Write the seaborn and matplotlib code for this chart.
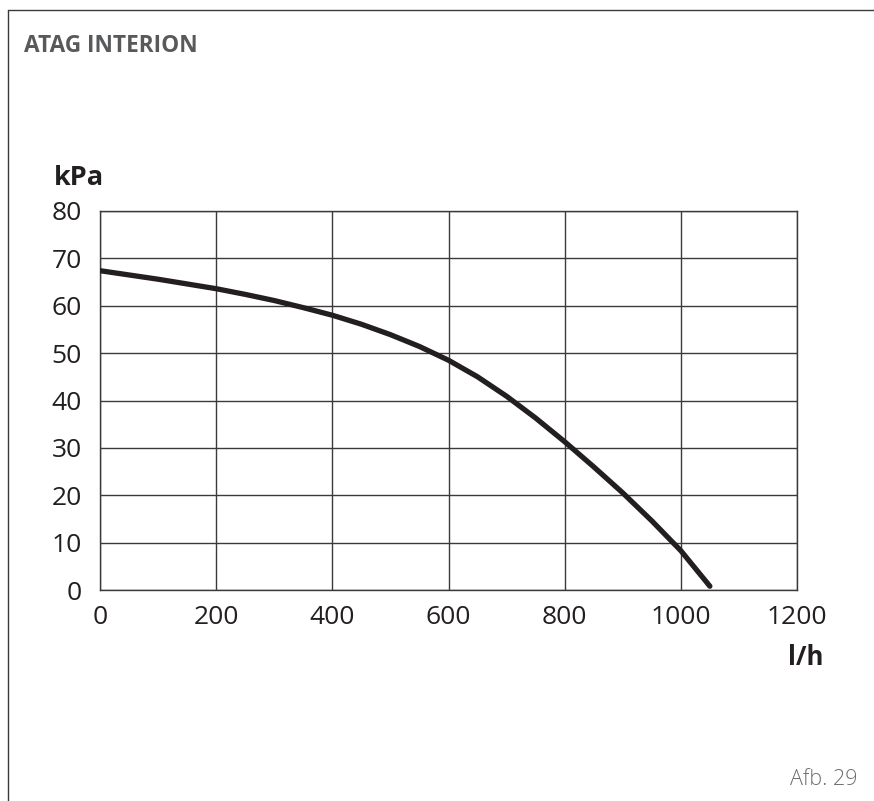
import matplotlib
matplotlib.use("Agg")
import matplotlib.pyplot as plt
from matplotlib.lines import Line2D
import seaborn as sns
import pandas as pd

# Pump residual head curve (flow in l/h, head in kPa)
flow_lh = [0, 50, 100, 150, 200, 250, 300, 350, 400, 450, 500, 550, 600, 650,
           700, 750, 800, 850, 900, 950, 1000, 1050]
head_kpa = [67.4, 66.5, 65.6, 64.6, 63.6, 62.4, 61.1, 59.6, 58.0, 56.1, 53.9,
            51.4, 48.5, 45.0, 40.9, 36.3, 31.3, 26.0, 20.5, 14.6, 8.3, 0.8]

x_ticks = [0, 200, 400, 600, 800, 1000, 1200]
y_ticks = [0, 10, 20, 30, 40, 50, 60, 70, 80]

title_text = "ATAG INTERION"
y_unit = "kPa"
x_unit = "l/h"
fig_label = "Afb. 29"

sns.set_theme(style="white")
plt.rcParams["font.family"] = ["Open Sans", "DejaVu Sans"]

W, H = 874, 801
fig = plt.figure(figsize=(W / 100, H / 100), dpi=100)
fig.patch.set_facecolor("white")

ax = fig.add_axes([100 / W, (H - 590) / H, 697 / W, 379 / H])
df = pd.DataFrame({"flow": flow_lh, "head": head_kpa})
sns.lineplot(data=df, x="flow", y="head", ax=ax, color="#231f20",
             linewidth=3.8, solid_capstyle="round", solid_joinstyle="round",
             zorder=3)

ax.set_xlim(0, 1200)
ax.set_ylim(0, 80)
ax.set_xticks(x_ticks)
ax.set_yticks(y_ticks)
ax.set_xticklabels([str(v) for v in x_ticks])
ax.set_yticklabels([str(v) for v in y_ticks])
ax.set_xlabel("")
ax.set_ylabel("")
ax.grid(True, color="#3a3a3a", linewidth=1.0)
ax.set_axisbelow(True)
for s in ax.spines.values():
    s.set_visible(True)
    s.set_color("#3a3a3a")
    s.set_linewidth(1.0)
ax.tick_params(axis="both", length=0, labelsize=19, colors="#231f20")
ax.tick_params(axis="x", pad=11)
ax.tick_params(axis="y", pad=13)
ax.set_facecolor("white")

# Surrounding frame lines (top and left)
fig.add_artist(Line2D([8 / W, 1.0], [(H - 10) / H, (H - 10) / H],
                      transform=fig.transFigure, color="#3a3a3a", linewidth=1.0))
fig.add_artist(Line2D([8 / W, 8 / W], [(H - 10) / H, 0.0],
                      transform=fig.transFigure, color="#3a3a3a", linewidth=1.0))

fig.text(24 / W, (H - 52) / H, title_text, fontsize=16.3, fontweight="bold",
         color="#58595b", ha="left", va="baseline")
fig.text(54 / W, (H - 185) / H, y_unit, fontsize=19.5, fontweight="bold",
         color="#231f20", ha="left", va="baseline")
fig.text(823 / W, (H - 665) / H, x_unit, fontsize=18.5, fontweight="bold",
         color="#231f20", ha="right", va="baseline")
fig.text(858 / W, (H - 785) / H, fig_label, fontsize=15.5, fontweight="light",
         color="#6d6e71", ha="right", va="baseline")

fig.savefig("out.png", dpi=100, facecolor="white")
